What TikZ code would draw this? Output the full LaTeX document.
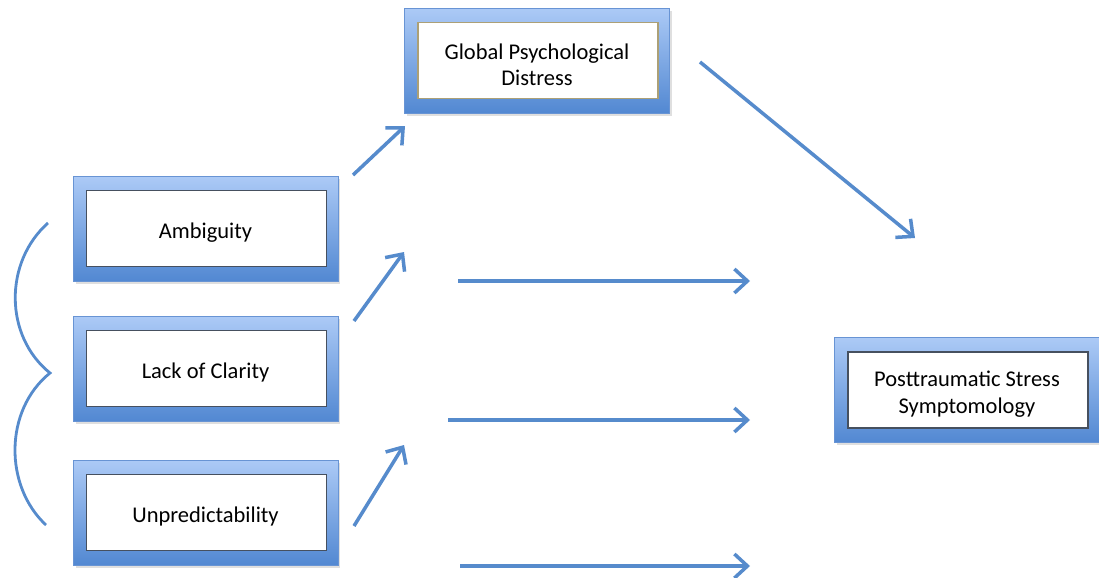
\documentclass[tikz,border=0pt]{standalone}
\usepackage{fontspec}
\setmainfont{Carlito}
\usetikzlibrary{arrows.meta, shadows}

\definecolor{arrowblue}{RGB}{86,139,204}
\definecolor{frametop}{RGB}{172,202,246}
\definecolor{framebot}{RGB}{82,136,210}
\definecolor{frameedge}{RGB}{104,148,212}
\definecolor{innerline}{RGB}{70,80,95}
\definecolor{tanline}{RGB}{172,160,118}

\pgfkeys{/tikz/inner line/.initial=innerline}

\begin{document}
\begin{tikzpicture}[x=0.02cm, y=-0.02cm,
    box/.style={rectangle, minimum width=5.3cm, minimum height=2.1cm,
        top color=frametop, bottom color=framebot, draw=frameedge,
        drop shadow={opacity=0.25, shadow xshift=0.05cm, shadow yshift=-0.06cm},
        align=center, font=\fontsize{12.8}{14.9}\selectfont, text height=13.6pt,
        path picture={\draw[fill=white, draw=\pgfkeysvalueof{/tikz/inner line}, line width=0.8pt]
            ([xshift=0.27cm, yshift=0.29cm]path picture bounding box.south west) rectangle
            ([xshift=-0.23cm, yshift=-0.29cm]path picture bounding box.north east);}},
    twoline/.style={text height=28.4pt},
    arr/.style={-{Straight Barb[length=2.6mm, width=4.8mm]}, draw=arrowblue, line width=2pt}]
    \useasboundingbox (0,0) rectangle (1099,578);

    % Boxes
    \node[box] (ambig) at (205.5,228.5) {Ambiguity};
    \node[box] (clarity) at (205.5,368.5) {Lack of Clarity};
    \node[box] (unpred) at (205.5,512.5) {Unpredictability};
    \node[box, twoline, inner line=tanline] (distress) at (537,60.5) {Global Psychological\\Distress};
    \node[box, twoline] (ptss) at (967,390) {Posttraumatic Stress\\Symptomology};

    % Arrow ends
    \coordinate (a1s) at (353,175);
    \coordinate (a1e) at (405,126);
    \coordinate (a2s) at (354,321);
    \coordinate (a2e) at (404,252);
    \coordinate (a3s) at (354,526);
    \coordinate (a3e) at (404,445);
    \coordinate (h1s) at (458,281);
    \coordinate (h1e) at (750,281);
    \coordinate (h2s) at (448,420);
    \coordinate (h2e) at (750,420);
    \coordinate (h3s) at (460,566);
    \coordinate (h3e) at (750,566);
    \coordinate (ds) at (700,62);
    \coordinate (de) at (915,238);

    % Arrows
    \draw[arr] (a1s) -- (a1e);
    \draw[arr] (a2s) -- (a2e);
    \draw[arr] (a3s) -- (a3e);
    \draw[arr] (h1s) -- (h1e);
    \draw[arr] (h2s) -- (h2e);
    \draw[arr] (h3s) -- (h3e);
    \draw[arr] (ds) -- (de);

    % Brace
    \draw[arrowblue, line width=1.6pt] (48,223) .. controls (4,262) and (4,336) .. (50,373)
        .. controls (4,410) and (4,486) .. (46,525);
\end{tikzpicture}
\end{document}
